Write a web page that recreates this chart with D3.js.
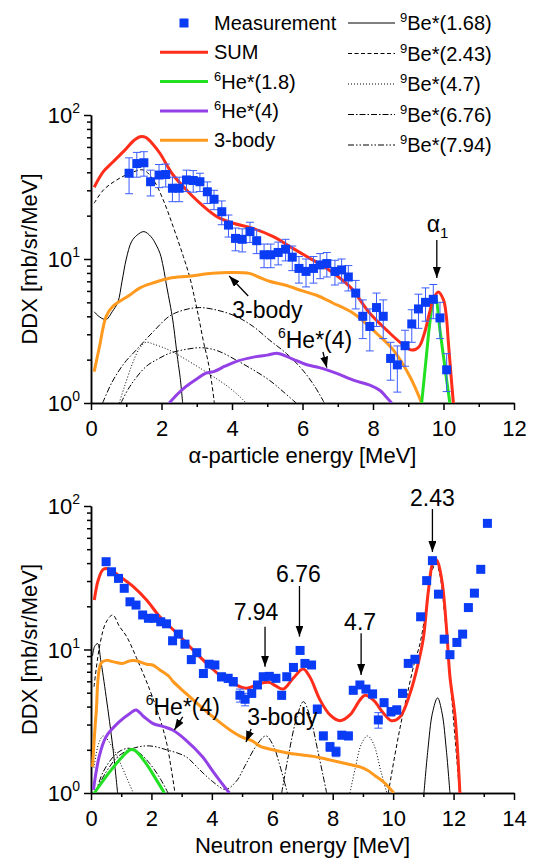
<!DOCTYPE html>
<html>
<head>
<meta charset="utf-8">
<script src="https://cdn.jsdelivr.net/npm/d3@7"></script>
<style>
body { margin: 0; background: #fff; }
svg { font-family: "Liberation Sans", Arial, Helvetica, sans-serif; }
.axis path, .axis line { stroke: #000; stroke-width: 1.5; }
.axis text { font-size: 22px; fill: #000; }
</style>
</head>
<body>
<div class="container"></div>
<script>
// ---- alpha spectrum (top) ----
var alphaE   = [1.08,1.30,1.50,1.69,1.93,2.12,2.31,2.50,2.71,2.90,3.09,3.30,3.49,3.71,3.90,4.10,4.29,4.51,4.70,4.91,5.10,5.31,5.52,5.71,5.90,6.10,6.31,6.50,6.69,6.92,7.11,7.30,7.51,7.71,7.91,8.10,8.29,8.50,8.69,8.91,9.10,9.29,9.49,9.71,9.90,10.09];
var alphaDDX = [39.4,46,46.6,34.4,38.3,38.6,31,31,35.4,35.1,34.4,29.3,26,21.3,17.2,13.9,13.7,15.5,13.4,10.7,10.7,11.1,11.7,10.3,8.6,8.2,8.6,9.1,9.3,8.2,8.4,7.5,5.8,4.0,3.4,4.6,4.0,2.04,1.84,2.5,3.54,4.5,5.0,5.25,3.9,1.7];
var alphaErr = [11,9,9,7,7,7,6,6,6,6,5,5,4,4,3,2.5,2.5,2.5,2.5,2,2,2,2,2,1.8,1.8,1.8,1.8,1.8,1.6,1.6,1.5,1.3,1.2,1.1,1.2,1.2,0.6,0.65,0.7,0.9,1.2,1.3,1.4,1.1,0.5];

var alphaSum = [[0.09,31.5],[0.35,40.4],[0.63,47.4],[0.96,57],[1.2,66],[1.39,70.7],[1.55,70],[1.75,63],[1.96,54],[2.15,45],[2.33,38.3],[2.71,30.1],[3.09,24.4],[3.57,19.7],[4.04,17.7],[4.6,16.3],[5.17,14.3],[5.74,11.8],[6.21,10.1],[6.69,8.6],[7.35,6.4],[7.91,4.2],[8.48,3.05],[8.86,2.53],[9.1,2.33],[9.3,2.45],[9.45,3.0],[9.6,4.2],[9.72,5.3],[9.85,5.9],[10.0,5.2],[10.08,4.0],[10.14,2.6],[10.21,1.6],[10.28,1.0]];
var alphaHe18 = [[9.38,1.0],[9.5,1.95],[9.6,3.4],[9.7,5.0],[9.77,5.4],[9.9,3.2],[10.05,1.7],[10.18,1.0]];
var alphaHe4 = [[2.22,1.0],[2.45,1.15],[2.69,1.3],[3.0,1.47],[3.26,1.61],[3.5,1.66],[3.8,1.8],[4.11,1.94],[4.68,2.1],[5.0,2.15],[5.3,2.21],[5.72,2.02],[6.1,1.85],[6.48,1.76],[6.95,1.61],[7.44,1.44],[7.91,1.33],[8.2,1.22],[8.35,1.12],[8.53,1.0]];
var alpha3b = [[0.09,1.65],[0.24,2.46],[0.43,4.0],[0.61,4.66],[1.09,5.6],[1.39,6.3],[1.75,6.8],[2.22,7.35],[2.79,7.6],[3.45,7.95],[3.92,8.05],[4.49,7.95],[4.75,7.5],[5.06,7.0],[5.5,6.6],[6.0,6.0],[6.4,5.6],[6.86,4.95],[7.44,4.2],[8.1,3.05],[8.58,2.33],[9.05,1.52],[9.38,1.0]];
var alphaBe168 = [[[0.09,4.3],[0.25,3.95],[0.43,3.8],[0.6,4.3],[0.76,5.0],[0.88,7.0],[1.0,10.0],[1.15,13.2],[1.3,14.6],[1.5,15.5],[1.7,14.3],[1.85,12.5],[1.96,10.9],[2.05,8.8],[2.15,6.4],[2.24,4.9],[2.32,3.77],[2.46,2.0],[2.53,1.5],[2.6,1.0]]];
var alphaBe243 = [[[0.09,24.4],[0.35,30.1],[0.73,35.4],[1.11,39.4],[1.48,41.5],[1.77,35.4],[2.05,25.7],[2.33,16.8],[2.62,10.4],[2.8,7.5],[2.95,5.2],[3.07,3.77],[3.2,2.6],[3.31,2.0],[3.42,1.4],[3.5,1.0]]];
var alphaBe47 = [[[0.8,1.0],[0.95,1.3],[1.18,1.89],[1.38,2.4],[1.56,2.64],[1.8,2.55],[2.22,2.33],[2.7,2.0],[3.17,1.7],[3.55,1.48],[3.92,1.28],[4.2,1.12],[4.4,1.0]]];
var alphaBe676 = [[[0.33,1.0],[0.6,1.4],[0.95,1.9],[1.28,2.33],[1.75,3.1],[2.22,4.0],[2.6,4.4],[3.07,4.6],[3.6,4.4],[4.11,4.0],[4.6,3.4],[5.06,2.74],[5.55,2.2],[6.0,1.7],[6.35,1.3],[6.62,1.0]]];
var alphaBe794 = [[[0.85,1.0],[1.1,1.3],[1.56,1.79],[1.9,2.02],[2.22,2.21],[2.7,2.36],[3.17,2.42],[3.6,2.3],[4.11,1.99],[4.6,1.7],[5.06,1.44],[5.45,1.2],[5.82,1.0]]];

// ---- neutron spectrum (bottom) ----
var neutE   = [0.50,0.68,0.91,1.10,1.29,1.49,1.71,1.90,2.10,2.31,2.50,2.70,2.89,3.11,3.32,3.50,3.72,3.91,4.10,4.32,4.54,4.71,4.93,5.10,5.32,5.51,5.70,5.90,6.12,6.31,6.48,6.70,6.92,7.08,7.30,7.49,7.69,7.91,8.11,8.30,8.52,8.68,8.90,9.10,9.32,9.51,9.70,9.93,10.12,10.31,10.50,10.72,10.91,11.11,11.30,11.50,11.69,11.88,12.11,12.30,12.49,12.69,12.90,13.12];
var neutDDX = [40.9,34.8,31.3,26.7,21.5,20.4,17.4,16.5,16.5,15.6,15.1,11.5,12.8,10.9,8.5,9.5,6.8,7.9,7.8,6.45,6.3,5.97,4.8,4.5,4.95,5.66,6.46,6.5,6.3,4.8,6.46,7.5,9.85,8.0,7.8,3.84,2.5,2.1,1.94,2.53,2.5,5.2,5.66,5.3,4.9,3.23,4.26,3.69,3.79,4.95,8.0,8.55,16.9,30.2,41.6,24.3,11.8,9.2,11.2,12.8,19.6,24.7,36.2,75.7];
var neutErr = [2.0,1.7,1.5,1.3,1.1,1.0,0.9,0.8,0.8,0.8,0.8,0.6,0.6,0.6,0.5,0.5,0.4,0.4,0.4,0.4,0.4,0.4,0.5,0.45,0.3,0.3,0.35,0.35,0.35,0.3,0.35,0.4,0.5,0.4,0.4,0.25,0.15,0.15,0.15,0.15,0.15,0.3,0.3,0.3,0.3,0.4,0.25,0.25,0.25,0.3,0.4,0.45,0.85,1.5,2.1,1.2,0.6,0.5,0.55,0.65,1.0,1.2,1.8,3.8];

var neutSum = [[0.11,22.1],[0.24,30.5],[0.41,36.2],[0.63,36.2],[0.96,32.2],[1.4,27.4],[1.84,22.1],[2.28,16.9],[2.84,13.0],[3.38,9.9],[3.94,7.6],[4.27,6.6],[4.71,5.8],[5.15,5.37],[5.59,5.8],[5.9,5.9],[6.1,5.6],[6.36,5.3],[6.69,6.3],[7.02,7.3],[7.24,6.46],[7.58,4.45],[7.91,3.5],[8.24,3.19],[8.57,3.5],[8.9,4.45],[9.07,4.8],[9.34,4.45],[9.68,3.6],[9.95,3.19],[10.23,3.4],[10.56,4.95],[10.83,8.0],[11.0,12.0],[11.17,26],[11.33,41],[11.44,42],[11.61,30.5],[11.77,13.7],[11.88,6.46],[12.05,3.4],[12.21,1.0]];
var neutHe18 = [[0.11,1.0],[0.5,1.3],[0.94,1.7],[1.3,2.0],[1.45,1.98],[1.82,1.61],[2.1,1.3],[2.43,1.0]];
var neutHe4 = [[0.08,1.05],[0.27,1.79],[0.5,2.47],[0.94,3.14],[1.3,3.6],[1.49,3.79],[1.75,3.4],[2.04,3.06],[2.4,2.9],[2.7,2.75],[3.14,2.34],[3.69,1.79],[4.0,1.45],[4.25,1.23],[4.58,1.0]];
var neut3b = [[0.05,1.52],[0.17,3.6],[0.33,8.0],[0.5,8.4],[0.75,8.2],[1.05,8.0],[1.3,8.35],[1.49,8.35],[1.84,7.9],[2.04,7.8],[2.28,7.2],[2.59,6.46],[2.72,5.97],[3.14,4.95],[3.69,3.9],[4.16,3.23],[4.6,2.75],[5.0,2.45],[5.35,2.3],[5.59,2.12],[6.01,2.0],[6.5,1.9],[7.0,1.84],[7.36,1.8],[7.8,1.72],[8.46,1.6],[8.9,1.52],[9.15,1.44],[9.4,1.32],[9.67,1.2],[9.85,1.1],[10.02,1.0]];
var neutBe168 = [[[0.05,9.0],[0.12,10.5],[0.22,11.0],[0.32,8.5],[0.5,4.7],[0.72,2.1],[0.88,1.0]],
                 [[11.02,1.0],[11.15,2.0],[11.3,3.6],[11.47,4.6],[11.62,3.6],[11.76,2.0],[11.88,1.0]]];
var neutBe243 = [[[0.1,5.5],[0.3,11],[0.5,15.5],[0.72,17.4],[0.94,14.5],[1.18,12.3],[1.5,8.8],[1.95,5.2],[2.3,3.2],[2.51,2.2],[2.65,1.5],[2.78,1.0]],
                 [[9.84,1.0],[10.05,1.8],[10.25,3.0],[10.45,4.7],[10.7,8.0],[10.89,11.0],[11.1,20],[11.3,36],[11.42,40],[11.55,33],[11.7,18],[11.85,8],[12.0,3.2],[12.12,1.6],[12.2,1.0]]];
var neutBe47 = [[[0.1,1.5],[0.25,2.2],[0.41,2.5],[0.7,2.1],[0.95,1.65],[1.2,1.25],[1.4,1.0]],
                [[8.57,1.0],[8.75,1.5],[8.95,2.2],[9.15,2.5],[9.35,2.2],[9.6,1.4],[9.79,1.0]]];
var neutBe676 = [[[0.15,1.0],[0.4,1.4],[0.75,1.8],[1.0,1.98],[1.27,2.05],[1.6,1.9],[1.95,1.6],[2.3,1.25],[2.55,1.0]],
                 [[6.31,1.0],[6.55,1.9],[6.8,3.3],[7.03,4.33],[7.25,3.4],[7.5,2.0],[7.8,1.0]]];
var neutBe794 = [[[0.12,1.0],[0.5,1.4],[0.9,1.8],[1.4,2.05],[1.93,2.13],[2.5,2.0],[3.14,1.79],[3.6,1.45],[4.03,1.2],[4.45,1.06],[4.8,1.2],[5.1,1.55],[5.45,2.1],[5.79,2.5],[6.05,2.1],[6.23,1.61],[6.5,1.0]]];

// annotations: arrow from (e1,v1) to (e2,v2), label offset in px from arrow start
var alphaNotes = [
    {text:"3-body", e1:4.46, v1:5.53, e2:3.92, v2:7.62, dx:-16, dy:22, anchor:"start"},
    {sup:"6", text:"He*(4)", e1:6.58, v1:2.26, e2:6.69, v2:1.76, dx:-45, dy:-4, anchor:"start"},
    {text:"\u03b1", sub:"1", e1:9.81, v1:13.55, e2:9.81, v2:7.38, dx:-10, dy:-8, anchor:"start"}
];
var neutNotes = [
    {text:"2.43", e1:11.30, v1:95.3, e2:11.30, v2:47.8, dx:0, dy:-3, anchor:"middle"},
    {text:"6.76", e1:6.90, v1:27.7, e2:6.90, v2:12.3, dx:-1, dy:-4, anchor:"middle"},
    {text:"4.7", e1:8.94, v1:13.0, e2:8.94, v2:6.64, dx:-1, dy:-3, anchor:"middle"},
    {text:"7.94", e1:5.76, v1:14.4, e2:5.76, v2:7.59, dx:-9, dy:-7, anchor:"middle"},
    {sup:"6", text:"He*(4)", e1:3.035, v1:3.39, e2:2.76, v2:2.75, dx:-37, dy:-2, anchor:"start"},
    {text:"3-body", e1:5.30, v1:2.79, e2:5.13, v2:2.27, dx:-4, dy:-4, anchor:"start"}
];

var legendLeft = [
    {kind:"point", text:"Measurement"},
    {kind:"sum", text:"SUM"},
    {kind:"he18", sup:"6", text:"He*(1.8)"},
    {kind:"he4", sup:"6", text:"He*(4)"},
    {kind:"tb", text:"3-body"}
];
var legendRight = [
    {kind:"be168", sup:"9", text:"Be*(1.68)"},
    {kind:"be243", sup:"9", text:"Be*(2.43)"},
    {kind:"be47", sup:"9", text:"Be*(4.7)"},
    {kind:"be676", sup:"9", text:"Be*(6.76)"},
    {kind:"be794", sup:"9", text:"Be*(7.94)"}
];

var STYLE = {
    sum:   {stroke:"#ff2d1a", width:3},
    he18:  {stroke:"#22e022", width:3},
    he4:   {stroke:"#9340e6", width:3},
    tb:    {stroke:"#ff9a1e", width:3},
    be168: {stroke:"#000", width:1},
    be243: {stroke:"#000", width:1, dash:"4,2.5"},
    be47:  {stroke:"#000", width:1, dash:"1,2"},
    be676: {stroke:"#000", width:1, dash:"6,2,1.5,2"},
    be794: {stroke:"#000", width:1, dash:"6,2,1.5,2,1.5,2"}
};
const BLUE = "#0a3cf5";
const ERRBLUE = "#3a5cff";
const SQ = 9;

var svg = d3.select(".container").append("svg")
    .attr("width", 537).attr("height", 861);

var defs = svg.append("defs");
defs.append("marker").attr("id","head")
    .attr("markerUnits","userSpaceOnUse")
    .attr("markerWidth",12).attr("markerHeight",8)
    .attr("refX",11).attr("refY",4).attr("orient","auto")
    .append("path").attr("d","M0,0 L11,4 L0,8 Z").attr("fill","#000");

var styled = function(sel, s){
    sel.attr("fill","none").attr("stroke",s.stroke).attr("stroke-width",s.width);
    if (s.dash) sel.attr("stroke-dasharray",s.dash);
    return sel;
}

var richText = function(g, x, y, n, size, supSize){
    var t = g.append("text").attr("x",x).attr("y",y)
        .attr("font-size",size).attr("text-anchor",n.anchor || "start");
    if (n.sup) {
        t.append("tspan").attr("font-size",supSize).attr("dy",-Math.round(size*0.42)).text(n.sup);
        t.append("tspan").attr("dy",Math.round(size*0.42)).text(n.text);
    } else {
        t.append("tspan").text(n.text);
    }
    if (n.sub) t.append("tspan").attr("font-size",supSize+1).attr("dy",6).text(n.sub);
    return t;
}

var drawPanel = function(p){
    var x = d3.scaleLinear().domain([0,p.xMax]).range([91,514]);
    var y = d3.scaleLog().domain([1,100]).range([p.yBot,p.yTop]);
    var g = svg.append("g");

    var clipId = "clip" + p.id;
    defs.append("clipPath").attr("id",clipId).append("rect")
        .attr("x",91).attr("y",p.yTop-2).attr("width",423).attr("height",p.yBot-p.yTop+2);

    // axes
    var minorX = d3.range(1,p.xMax,2);
    var majorX = d3.range(0,p.xMax+1,2);
    g.append("g").attr("class","axis").attr("transform","translate(0,"+p.yBot+")")
        .call(d3.axisBottom(x).tickValues(minorX).tickSize(4).tickSizeOuter(0).tickFormat(""));
    g.append("g").attr("class","axis").attr("transform","translate(0,"+p.yBot+")")
        .call(d3.axisBottom(x).tickValues(majorX).tickSize(7).tickSizeOuter(0).tickPadding(10).tickFormat(d3.format("d")));

    var minorY = [2,3,4,5,6,7,8,9,20,30,40,50,60,70,80,90];
    g.append("g").attr("class","axis").attr("transform","translate(91,0)")
        .call(d3.axisLeft(y).tickValues(minorY).tickSize(4).tickSizeOuter(0).tickFormat(""));
    g.append("g").attr("class","axis").attr("transform","translate(91,0)")
        .call(d3.axisLeft(y).tickValues([1,10,100]).tickSize(7).tickSizeOuter(0).tickFormat(""));
    [0,1,2].forEach(function(k){
        var t = g.append("text").attr("x",80).attr("y",y(Math.pow(10,k))+8)
            .attr("font-size",22).attr("text-anchor","end");
        t.append("tspan").text("10");
        t.append("tspan").attr("font-size",14).attr("dy",-10).text(k);
    });

    g.append("text").attr("x",302.5).attr("y",p.yBot+60)
        .attr("text-anchor","middle").attr("font-size",22).text(p.xTitle);
    g.append("text").attr("transform","translate(37,"+((p.yTop+p.yBot)/2)+") rotate(-90)")
        .attr("text-anchor","middle").attr("font-size",22).text("DDX [mb/sr/MeV]");

    // curves
    var line = d3.line().x(function(d){return x(d[0]);}).y(function(d){return y(d[1]);})
        .curve(d3.curveCatmullRom.alpha(0.5));
    var cg = g.append("g").attr("clip-path","url(#"+clipId+")");
    p.thin.forEach(function(c){
        c.segs.forEach(function(seg){
            styled(cg.append("path").attr("d",line(seg)), STYLE[c.kind]);
        });
    });
    p.thick.forEach(function(c){
        styled(cg.append("path").attr("d",line(c.pts)), STYLE[c.kind]).attr("stroke-linejoin","round");
    });

    // measurement with error bars
    var pg = g.append("g");
    p.e.forEach(function(e,i){
        var v = p.v[i], er = p.err[i];
        var cx = x(e), y1 = y(v+er), y2 = y(v-er);
        pg.append("line").attr("x1",cx).attr("x2",cx).attr("y1",y1).attr("y2",y2)
            .attr("stroke",ERRBLUE).attr("stroke-width",1);
        [y1,y2].forEach(function(yy){
            pg.append("line").attr("x1",cx-4).attr("x2",cx+4).attr("y1",yy).attr("y2",yy)
                .attr("stroke",ERRBLUE).attr("stroke-width",1);
        });
    });
    p.e.forEach(function(e,i){
        pg.append("rect").attr("x",x(e)-SQ/2).attr("y",y(p.v[i])-SQ/2)
            .attr("width",SQ).attr("height",SQ).attr("fill",BLUE);
    });

    // annotations
    p.notes.forEach(function(n){
        var ax = x(n.e1), ay = y(n.v1);
        g.append("line").attr("x1",ax).attr("y1",ay).attr("x2",x(n.e2)).attr("y2",y(n.v2))
            .attr("stroke","#000").attr("stroke-width",1.3).attr("marker-end","url(#head)");
        richText(g, ax+n.dx, ay+n.dy, n, 23, 14);
    });
}

var drawLegend = function(){
    var g = svg.append("g");
    legendLeft.forEach(function(d,i){
        var cy = 23 + i*29.3;
        if (d.kind == "point") {
            g.append("rect").attr("x",184-SQ/2).attr("y",cy-SQ/2).attr("width",SQ).attr("height",SQ).attr("fill",BLUE);
        } else {
            styled(g.append("line").attr("x1",160).attr("x2",208).attr("y1",cy).attr("y2",cy), STYLE[d.kind]);
        }
        richText(g, 214, cy+7, d, 20, 13);
    });
    legendRight.forEach(function(d,i){
        var cy = 23 + i*30.5;
        styled(g.append("line").attr("x1",348).attr("x2",395).attr("y1",cy).attr("y2",cy), STYLE[d.kind]);
        richText(g, 400, cy+7, d, 20, 13);
    });
}

drawPanel({
    id:"a", xMax:12, yTop:115, yBot:403, xTitle:"\u03b1-particle energy [MeV]",
    e:alphaE, v:alphaDDX, err:alphaErr, notes:alphaNotes,
    thin:[{kind:"be168",segs:alphaBe168},{kind:"be243",segs:alphaBe243},{kind:"be47",segs:alphaBe47},
          {kind:"be676",segs:alphaBe676},{kind:"be794",segs:alphaBe794}],
    thick:[{kind:"tb",pts:alpha3b},{kind:"he4",pts:alphaHe4},{kind:"he18",pts:alphaHe18},{kind:"sum",pts:alphaSum}]
});
drawPanel({
    id:"n", xMax:14, yTop:506, yBot:793, xTitle:"Neutron energy [MeV]",
    e:neutE, v:neutDDX, err:neutErr, notes:neutNotes,
    thin:[{kind:"be168",segs:neutBe168},{kind:"be243",segs:neutBe243},{kind:"be47",segs:neutBe47},
          {kind:"be676",segs:neutBe676},{kind:"be794",segs:neutBe794}],
    thick:[{kind:"tb",pts:neut3b},{kind:"he4",pts:neutHe4},{kind:"he18",pts:neutHe18},{kind:"sum",pts:neutSum}]
});
drawLegend();
</script>
</body>
</html>
